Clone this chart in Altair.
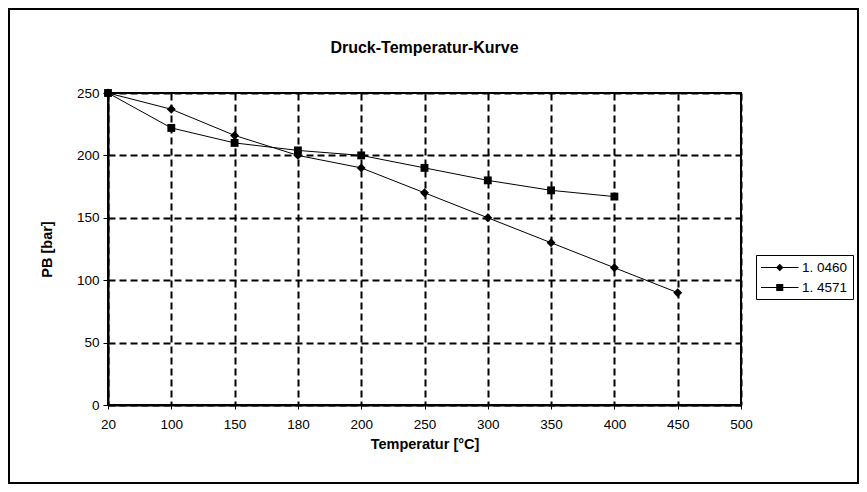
import altair as alt
import pandas as pd

# ---- data ----
chart_title = "Druck-Temperatur-Kurve"
temps = ["20", "100", "150", "180", "200", "250", "300", "350", "400", "450", "500"]

s1_name = "1. 0460"
s1_temps = ["20", "100", "150", "180", "200", "250", "300", "350", "400", "450"]
s1_vals = [250, 237, 216, 200, 190, 170, 150, 130, 110, 90]

s2_name = "1. 4571"
s2_temps = ["20", "100", "150", "180", "200", "250", "300", "350", "400"]
s2_vals = [250, 222, 210, 204, 200, 190, 180, 172, 167]

y_ticks = [0, 50, 100, 150, 200, 250]
series = [s1_name, s2_name]

df = pd.DataFrame({
    "T": s1_temps + s2_temps,
    "P": s1_vals + s2_vals,
    "S": [s1_name] * len(s1_vals) + [s2_name] * len(s2_vals),
})

FONT = "Liberation Sans"

x = alt.X(
    "T:O",
    sort=temps,
    scale=alt.Scale(domain=temps, type="point", padding=0),
    axis=alt.Axis(
        title="Temperatur [°C]", labelAngle=0, grid=True,
        tickSize=4, labelPadding=8, titlePadding=7,
    ),
)
y = alt.Y(
    "P:Q",
    scale=alt.Scale(domain=[0, 250], nice=False, zero=True),
    axis=alt.Axis(
        title="PB [bar]", values=y_ticks, grid=True,
        tickSize=5, labelPadding=4, titlePadding=22,
    ),
)

base = alt.Chart(df)

lines = base.mark_line(color="black", strokeWidth=1).encode(x=x, y=y, detail="S:N")

points = base.mark_point(filled=True, color="black", opacity=1).encode(
    x=x, y=y,
    shape=alt.Shape("S:N", scale=alt.Scale(domain=series, range=["diamond", "square"]), legend=None),
    size=alt.Size("S:N", scale=alt.Scale(domain=series, range=[80, 62]), legend=None),
)

# legend symbols: a thin filled bar (the line sample) plus the marker
diamond_path = "M-1,-0.07H4V0.07H-1ZM1.5,-0.5L2,0L1.5,0.5L1,0Z"
square_path = "M-1,-0.07H4V0.07H-1ZM1.03,-0.47H1.97V0.47H1.03Z"

legend_layer = base.mark_point(filled=True, color="black", opacity=0).encode(
    x=x, y=y,
    shape=alt.Shape(
        "S:N",
        scale=alt.Scale(domain=series, range=[diamond_path, square_path]),
        legend=alt.Legend(
            title=None, orient="none", legendX=648, legendY=162,
            symbolSize=225, symbolFillColor="black", symbolStrokeColor="black",
            symbolStrokeWidth=0, symbolOpacity=1,
            labelOffset=26, rowPadding=6, padding=5,
            strokeColor="black", fillColor="white",
            labelFont=FONT, labelFontSize=13.5, labelColor="black",
        ),
    ),
)

frame = alt.Chart(pd.DataFrame({"f": [0]})).mark_rect(
    fillOpacity=0, stroke="black", strokeWidth=2
).encode(
    x=alt.value(-99), x2=alt.value(750), y=alt.value(-84), y2=alt.value(390)
)

title_mark = alt.Chart(pd.DataFrame({"t": [chart_title]})).mark_text(
    font=FONT, fontSize=16, fontWeight="bold", color="black",
    align="center", baseline="middle",
).encode(
    text="t:N", x=alt.value(316.5), y=alt.value(-45)
)

chart = alt.layer(frame, lines, points, legend_layer, title_mark).resolve_scale(
    shape="independent"
).properties(
    width=633,
    height=312,
    autosize=alt.AutoSizeParams(type="none"),
    padding={"left": 100, "top": 85, "right": 118, "bottom": 79},
).configure(
    background="white",
).configure_view(
    stroke="black", strokeWidth=2,
).configure_axis(
    labelFont=FONT, labelFontSize=13.5, labelColor="black",
    titleFont=FONT, titleFontSize=14.5, titleFontWeight="bold", titleColor="black",
    domainColor="black", domainWidth=2,
    tickColor="black", tickWidth=1,
    gridColor="black", gridDash=[7, 4], gridWidth=2, gridOpacity=1,
)

chart.save("out.html", embed_options={"renderer": "svg", "actions": False})
